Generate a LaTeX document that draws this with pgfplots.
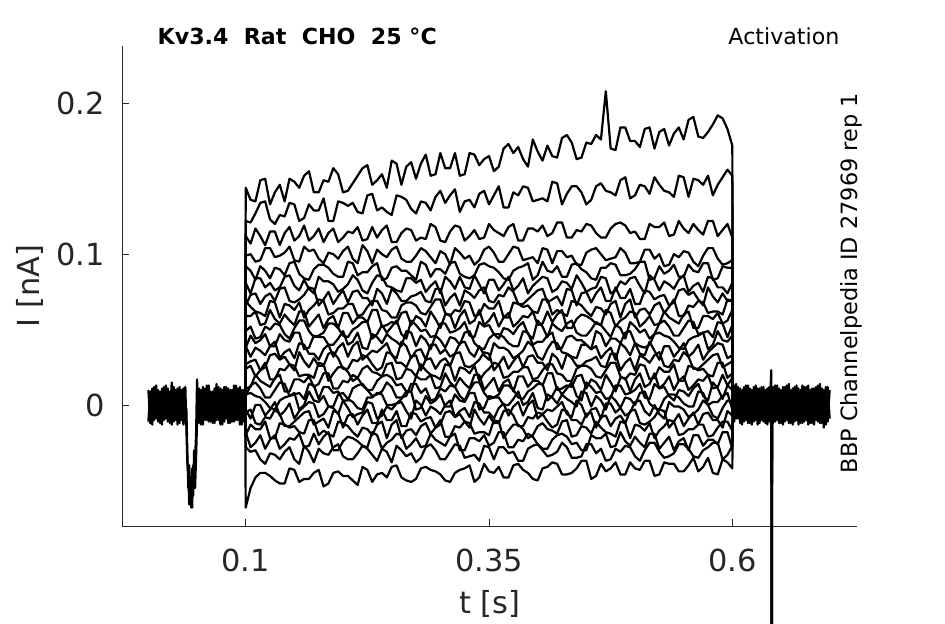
\documentclass[border=0pt]{standalone}
\usepackage{fontspec}
\setmainfont{DejaVu Sans}
\usepackage{pgfplots}
\usepackage{pgfplotstable}
\pgfplotsset{compat=1.18}
\definecolor{axgray}{HTML}{262626}

% currents in pA (tick labels show nA)
\pgfplotstableread{
t c1 c2 c3 c4 c5 c6 c7 c8 c9 c10 c11 c12 c13 c14 c15 c16 c17 c18 c19 c20 c21 c22 c23
0.0995 3 -2 4 -5 1 -3 5 -1 2 -4 0 3 -2 4 -6 1 -3 2 -1 5 -4 2 -3
0.100 144 122 112 99 92 81 66 69 59 49 38 39 27 24 11 6 7 -3 -5 -20 -18 -28 -68
0.105 136 121 107 100 89 74 73 65 59 52 46 32 29 26 12 13 8 -9 -3 -13 -28 -31 -55
0.110 135 127 117 95 83 84 74 62 62 44 41 38 30 19 20 15 6 0 -12 -16 -25 -30 -48
0.115 149 134 112 96 92 84 67 61 53 45 43 36 23 23 16 11 5 0 -13 -16 -20 -36 -45
0.120 150 135 106 104 89 78 72 59 54 52 47 33 25 28 14 5 2 -7 -8 -11 -29 -39 -45
0.125 133 123 115 104 84 81 74 69 63 50 39 39 33 17 12 5 -2 -3 -9 -22 -23 -32 -47
0.130 141 120 115 98 91 76 69 68 57 54 39 42 34 17 18 10 -3 2 -3 -22 -20 -33 -50
0.135 146 126 106 99 90 78 77 58 54 53 47 31 30 24 20 15 3 -7 -6 -12 -29 -36 -52
0.140 135 125 114 101 86 85 78 67 60 47 43 35 32 23 9 14 5 -4 -14 -13 -26 -31 -52
0.145 150 134 118 105 94 86 69 66 56 44 42 37 27 27 9 6 6 1 -14 -15 -22 -28 -42
0.150 148 133 109 96 95 79 68 63 53 51 48 31 23 26 17 7 8 -9 -11 -14 -23 -36 -43
0.155 144 122 112 95 87 76 70 68 62 56 48 41 35 19 17 8 -3 -4 -8 -18 -19 -39 -51
0.160 152 124 119 105 84 83 73 58 62 56 37 40 29 20 15 4 0 -1 -5 -19 -28 -27 -49
0.165 155 133 109 102 83 77 78 63 52 49 38 34 25 20 19 14 9 2 -4 -10 -27 -31 -49
0.170 141 129 112 103 90 74 77 66 56 45 46 34 31 18 12 13 3 1 -13 -10 -19 -38 -45
0.175 141 129 117 97 93 85 66 70 60 46 45 30 26 28 14 4 2 -8 -11 -20 -26 -29 -43
0.180 149 137 108 94 93 82 70 69 51 48 45 37 26 27 21 12 6 -6 -9 -17 -21 -32 -54
0.185 148 122 114 101 91 82 75 60 57 54 40 40 34 16 21 12 -1 -1 -15 -19 -18 -33 -52
0.190 157 122 117 100 87 80 67 61 59 54 40 32 35 21 11 8 -1 -2 -4 -21 -30 -28 -45
0.195 153 135 108 97 85 75 72 64 51 51 44 38 31 25 11 9 7 -6 -5 -11 -30 -26 -44
0.200 141 134 111 102 85 77 76 64 61 46 49 41 24 25 16 3 8 3 -15 -12 -24 -34 -47
0.205 142 132 115 105 95 80 68 67 61 45 40 32 24 22 15 3 4 -2 -7 -14 -21 -36 -47
0.210 147 134 114 97 94 86 75 67 54 50 42 39 30 16 20 11 2 -8 -6 -18 -22 -36 -50
0.215 152 128 118 94 86 83 76 59 58 52 48 42 29 18 18 13 -2 -6 -13 -21 -24 -32 -53
0.220 157 127 109 106 88 76 71 60 58 55 38 30 33 24 13 14 -3 -5 -7 -15 -27 -27 -41
0.225 159 139 110 102 88 74 71 65 55 55 37 33 32 26 10 10 5 2 -3 -16 -28 -29 -43
0.230 146 140 118 94 92 81 66 69 63 44 47 36 27 22 10 6 5 1 -12 -20 -18 -33 -51
0.235 149 129 111 103 94 86 77 69 63 47 45 35 23 21 16 7 8 -9 -12 -13 -20 -37 -46
0.240 153 131 116 100 83 85 74 63 52 53 41 38 25 19 19 9 7 -7 -3 -11 -29 -29 -45
0.245 144 128 119 98 84 79 67 62 53 48 47 41 35 27 20 15 0 -1 -10 -22 -25 -31 -48
0.250 162 126 108 103 91 78 77 58 55 52 44 33 34 28 18 12 0 -3 -10 -13 -23 -38 -41
0.255 160 139 108 105 92 76 74 58 54 56 42 31 28 17 13 5 1 1 -4 -10 -19 -27 -40
0.260 146 138 114 97 89 75 69 66 61 47 39 42 28 18 14 5 4 2 -14 -22 -20 -30 -48
0.265 158 136 117 95 89 84 69 68 62 44 49 39 25 24 9 6 9 -4 -14 -17 -29 -34 -50
0.270 161 130 116 95 86 84 72 68 53 56 48 31 32 23 9 14 9 -9 -5 -16 -26 -32 -51
0.275 150 127 109 99 83 81 73 66 59 53 39 36 33 19 19 14 -3 3 -6 -20 -22 -38 -49
0.280 160 135 111 104 95 83 75 61 57 49 46 37 23 27 17 8 -2 0 -11 -14 -28 -35 -42
0.285 166 134 110 102 93 75 69 60 52 50 43 30 30 23 17 11 6 -7 -9 -12 -27 -28 -41
0.290 152 129 120 98 85 79 68 65 62 45 37 40 31 20 20 3 1 -1 -8 -19 -19 -26 -43
0.295 153 138 118 94 90 82 77 70 57 46 46 40 24 19 11 4 3 -3 -15 -15 -23 -30 -44
0.300 167 142 109 102 90 74 77 70 51 54 43 34 29 17 12 11 7 -6 -13 -10 -25 -36 -46
0.305 157 134 108 100 87 85 66 61 60 54 38 37 31 27 21 9 -1 0 -5 -21 -27 -36 -50
0.310 157 139 115 93 94 82 71 59 60 48 45 32 26 26 15 13 -1 3 -4 -21 -21 -31 -51
0.315 167 143 119 104 95 77 74 63 51 49 44 34 34 16 12 12 7 -8 -8 -14 -19 -26 -45
0.320 152 128 118 101 87 85 66 62 59 51 40 41 35 25 18 6 3 -4 -6 -15 -30 -27 -43
0.325 153 135 109 97 85 78 76 69 63 55 48 42 26 24 14 3 2 -2 -11 -11 -30 -35 -42
0.330 167 136 112 99 84 77 74 68 54 46 49 35 25 21 11 10 8 -8 -15 -12 -22 -34 -40
0.335 166 131 116 93 86 86 71 59 56 45 41 32 27 26 20 15 8 2 -3 -19 -22 -33 -51
0.340 159 140 110 96 93 80 76 60 63 55 38 39 30 16 20 15 -3 1 -9 -18 -24 -37 -48
0.345 163 142 111 103 94 74 78 67 53 52 37 33 35 21 10 8 -2 -5 -13 -18 -20 -27 -39
0.350 165 133 120 105 92 83 69 64 56 53 44 30 34 24 14 4 6 -5 -7 -20 -27 -28 -44
0.355 155 139 116 101 91 83 68 64 61 47 47 41 23 28 18 5 5 -9 -12 -10 -25 -36 -45
0.360 158 145 114 95 88 76 73 69 52 44 47 38 27 27 9 7 5 -2 -12 -11 -18 -28 -41
0.365 170 131 112 95 84 80 72 58 58 51 45 38 32 18 15 13 0 1 -4 -22 -18 -28 -48
0.370 173 131 118 100 83 85 78 58 61 50 41 36 24 19 17 13 0 -7 -3 -17 -28 -32 -48
0.375 167 141 120 105 89 76 75 68 52 47 39 31 29 22 9 10 4 -1 -7 -13 -28 -31 -40
0.380 171 139 109 104 91 79 67 67 55 52 39 33 33 22 19 5 9 2 -14 -13 -23 -37 -39
0.385 163 145 109 96 92 84 67 65 59 55 49 36 25 25 19 4 0 -7 -14 -16 -24 -37 -43
0.390 158 144 117 97 94 74 70 66 58 47 48 42 32 25 12 9 2 0 -8 -22 -19 -29 -45
0.395 176 135 117 98 83 79 73 62 62 44 40 39 33 17 16 11 8 3 -9 -20 -21 -27 -49
0.400 168 136 115 94 86 82 76 61 53 56 42 32 28 18 16 14 -2 -9 -5 -14 -26 -26 -50
0.405 162 137 119 104 95 85 77 70 54 52 42 30 28 23 13 14 -3 -6 -6 -12 -29 -30 -42
0.410 172 135 112 103 89 84 68 70 62 45 46 37 23 27 21 3 7 -3 -11 -16 -29 -34 -41
0.415 165 148 114 94 88 75 70 60 55 54 48 42 34 27 21 6 5 -4 -15 -17 -23 -33 -38
0.420 164 147 121 102 92 77 72 63 60 51 37 41 31 21 10 12 1 -1 -13 -19 -20 -31 -39
0.425 177 133 121 102 85 82 66 61 63 49 38 35 24 20 11 7 7 2 -3 -11 -19 -25 -46
0.430 179 140 111 98 85 81 77 59 51 54 45 34 34 16 13 11 4 -6 -4 -10 -21 -28 -46
0.435 174 145 111 99 93 77 76 69 51 56 46 32 31 16 12 15 2 -8 -10 -21 -26 -35 -45
0.440 163 145 116 93 94 86 66 68 57 48 43 31 26 24 19 6 -1 3 -10 -20 -25 -35 -42
0.445 164 141 115 93 90 81 74 66 60 46 43 40 26 26 20 3 9 0 -13 -14 -30 -34 -37
0.450 174 133 120 101 88 75 75 62 59 46 40 40 29 26 11 15 8 -8 -6 -15 -30 -26 -37
0.455 173 136 119 103 84 77 68 59 57 50 37 37 30 24 17 12 -1 -3 -5 -19 -20 -26 -49
0.460 179 145 114 104 83 78 74 65 54 55 49 39 32 19 15 8 6 -2 -15 -11 -22 -32 -47
0.465 176 147 111 100 91 85 78 64 53 53 47 31 26 18 10 9 3 -9 -8 -15 -22 -29 -39
0.470 208 142 111 96 91 84 69 60 63 49 39 35 25 23 20 4 -3 1 -7 -18 -19 -37 -44
0.475 170 141 117 97 94 74 69 67 61 45 44 38 34 28 15 5 6 1 -14 -19 -28 -36 -42
0.480 169 139 120 98 93 76 78 69 52 53 44 30 34 28 9 13 3 -5 -9 -21 -27 -29 -38
0.485 184 149 121 104 86 82 71 58 56 51 41 41 23 19 18 13 -2 -2 -7 -11 -18 -31 -46
0.490 184 151 119 101 86 80 71 67 58 44 48 38 28 17 18 7 5 -7 -12 -12 -24 -27 -46
0.495 175 137 114 94 87 84 77 70 62 55 49 33 31 21 9 8 4 -5 -4 -22 -27 -28 -38
0.500 175 139 115 94 90 85 67 58 61 52 41 41 23 20 17 10 0 2 -3 -13 -21 -34 -42
0.505 171 146 110 95 95 79 67 63 52 48 39 34 33 27 21 14 8 3 -12 -14 -25 -37 -43
0.510 183 145 110 103 95 74 76 64 55 50 38 33 31 26 12 5 9 -4 -13 -17 -28 -30 -37
0.515 184 140 120 103 83 86 75 60 59 44 40 42 28 17 14 4 1 -7 -11 -12 -19 -25 -37
0.520 170 151 118 97 84 83 70 66 53 47 47 36 33 18 21 14 -2 0 -8 -22 -19 -25 -47
0.525 181 146 118 100 92 76 72 68 54 54 48 30 35 25 11 11 -3 -6 -3 -17 -29 -31 -46
0.530 183 142 121 92 87 82 73 61 62 56 46 39 26 22 14 12 4 -9 -4 -14 -25 -35 -38
0.535 172 141 112 93 89 80 66 65 58 52 45 39 25 22 19 6 7 2 -15 -10 -21 -34 -39
0.540 180 138 113 100 93 77 68 70 56 46 42 32 30 27 10 3 7 -1 -11 -11 -30 -32 -39
0.545 184 152 122 98 85 83 76 59 54 46 38 36 29 16 16 10 5 -1 -6 -20 -24 -26 -44
0.550 176 151 117 102 85 86 77 59 60 51 37 41 35 16 19 9 1 -3 -14 -19 -22 -26 -44
0.555 189 138 114 101 93 75 73 66 62 56 43 32 32 26 10 6 -1 -8 -9 -16 -30 -29 -40
0.560 191 150 120 95 89 79 75 65 51 55 45 35 24 25 13 11 -1 -6 -5 -16 -20 -34 -35
0.565 178 149 116 92 88 81 70 69 51 47 46 40 24 23 17 14 9 -3 -13 -13 -20 -35 -44
0.570 177 146 113 99 94 75 66 68 59 48 48 30 27 24 16 6 8 3 -6 -13 -27 -30 -41
0.575 181 152 122 104 94 85 78 61 59 49 37 35 30 20 20 3 0 0 -5 -21 -23 -28 -35
0.580 186 139 122 104 83 84 72 62 57 45 40 38 33 19 11 15 2 -7 -10 -20 -23 -25 -45
0.585 192 146 112 97 84 78 68 62 61 55 49 41 34 28 12 11 2 -9 -10 -15 -26 -25 -46
0.590 190 151 116 93 92 78 74 60 54 54 43 40 25 28 20 4 6 -2 -15 -11 -18 -36 -36
0.595 183 156 120 94 91 74 69 70 56 45 42 31 27 18 13 13 8 3 -4 -11 -18 -33 -38
0.600 172 152 111 96 91 81 69 69 63 53 46 33 29 21 18 10 -3 2 -7 -17 -29 -27 -42
0.6005 -3 4 -2 1 -5 3 -1 5 -4 2 0 -3 4 -1 6 -2 3 -5 1 -4 2 -1 3
}\pulse

\pgfplotstableread{
t a b
0.000 10 -11
0.002 -12 9
0.004 11 -13
0.006 -10 12
0.008 13 -9
0.010 -11 10
0.012 9 -12
0.014 -13 11
0.016 12 -10
0.018 -9 13
0.020 11 -11
0.022 -12 9
0.024 15 -13
0.026 -11 12
0.028 10 -10
0.030 -13 11
0.032 12 -12
0.034 -10 10
0.036 11 -13
0.038 -12 12
0.039 -2 -14
0.040 -30 -38
0.041 -55 -45
0.042 -40 -66
0.043 -62 -50
0.044 -48 -68
0.045 -68 -42
0.046 -40 -60
0.047 -52 -30
0.048 -35 -55
0.049 -20 -35
0.050 17 -11
0.052 -12 11
0.054 10 -13
0.056 -13 12
0.058 11 -10
0.060 -10 13
0.062 13 -11
0.064 -11 9
0.066 9 -12
0.068 -12 11
0.070 14 -10
0.072 -10 12
0.074 11 -13
0.076 -13 10
0.078 12 -11
0.080 -9 12
0.082 11 -12
0.084 -12 10
0.086 10 -11
0.088 -11 13
0.090 13 -10
0.092 -10 11
0.094 12 -13
0.096 -13 10
0.098 10 -11
0.0995 -5 6
nan nan nan
0.6005 12 -10
0.602 -11 13
0.604 14 -9
0.606 -9 12
0.608 11 -12
0.610 -13 10
0.612 12 -11
0.614 -10 13
0.616 13 -12
0.618 -12 11
0.620 10 -13
0.622 -11 12
0.624 13 -10
0.626 -13 11
0.628 11 -12
0.630 -10 12
0.632 12 -11
0.634 -12 10
0.636 11 -13
0.638 -11 12
0.640 23 -9
0.6405 -250 -250
0.641 -9 11
0.642 12 -12
0.644 -11 13
0.646 13 -10
0.648 -12 11
0.650 10 -12
0.652 -13 12
0.654 12 -11
0.656 -10 13
0.658 14 -12
0.660 -12 10
0.662 11 -13
0.664 -11 12
0.666 13 -10
0.668 -13 11
0.670 10 -12
0.672 -12 13
0.674 12 -11
0.676 -10 12
0.678 13 -13
0.680 -12 10
0.682 11 -12
0.684 -13 11
0.686 12 -10
0.688 -11 13
0.690 14 -12
0.692 -12 11
0.694 10 -15
0.696 -13 12
0.698 12 -11
0.700 -9 10
}\base

\begin{document}
\begin{tikzpicture}
\path[use as bounding box] (-91.875pt,-73.5pt) rectangle (616.875pt,394.5pt);
\begin{axis}[
  at={(0,0)}, anchor=south west,
  scale only axis, width=550.875pt, height=360pt,
  xmin=-0.02659, xmax=0.7281, ymin=-80.2, ymax=238,
  axis x line*=bottom, axis y line*=left,
  axis line style={-, axgray, line width=0.6pt},
  tick align=inside, major tick length=5.25pt,
  tick style={axgray, line width=0.6pt},
  xtick={0.1,0.35,0.6}, xticklabels={0.1,0.35,0.6},
  ytick={0,100,200}, yticklabels={0,0.1,0.2},
  ticklabel style={font=\fontsize{22.8}{27}\selectfont, text=axgray, inner sep=0pt},
  xticklabel style={anchor=north, yshift=-17pt},
  yticklabel style={anchor=east, xshift=-13pt},
  clip=false,
  tr/.style={black, line width=1.65pt, line join=round, no markers},
]
\addplot[tr, unbounded coords=jump] table[x=t, y=a] {\base};
\addplot[tr, unbounded coords=jump] table[x=t, y=b] {\base};
\pgfplotsinvokeforeach{1,...,23}{
  \addplot[tr] table[x=t, y=c#1] {\pulse};
}
\node[anchor=base west, font=\bfseries\fontsize{16.6}{20}\selectfont]
  at ([xshift=22.9pt, yshift=0.75pt]rel axis cs:0,1) {Kv3.4\ \ Rat\ \ CHO\ \ 25~°C};
\node[anchor=base east, font=\fontsize{16.6}{20}\selectfont]
  at ([xshift=-9.75pt, yshift=0.75pt]rel axis cs:1,1) {Activation};
\node[rotate=90, anchor=base west, font=\fontsize{16.8}{20}\selectfont]
  at ([yshift=36pt]rel axis cs:1,0) {BBP Channelpedia ID 27969 rep 1};
\node[rotate=90, anchor=base, font=\fontsize{22.8}{27}\selectfont, text=axgray]
  at ([xshift=-62.6pt]rel axis cs:0,0.5) {I [nA]};
\node[anchor=base, font=\fontsize{22.8}{27}\selectfont, text=axgray]
  at ([yshift=-66pt]rel axis cs:0.5,0) {t [s]};
\end{axis}
\end{tikzpicture}
\end{document}
